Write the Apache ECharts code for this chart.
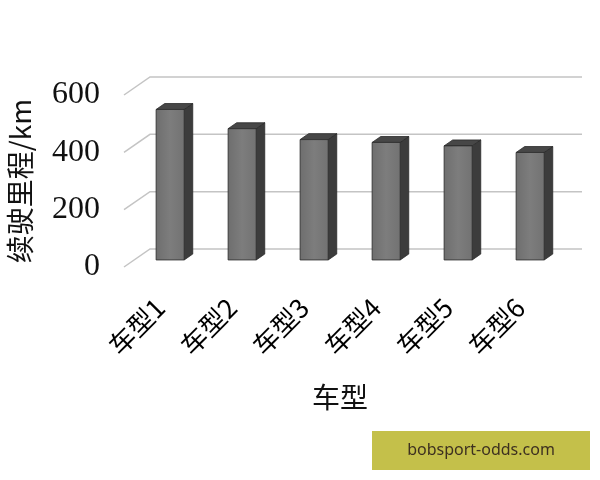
<!DOCTYPE html>
<html>
<head>
<meta charset="utf-8">
<script src="https://cdn.jsdelivr.net/npm/echarts@6/dist/echarts.min.js"></script>
<style>
  html, body { margin: 0; padding: 0; background: #fff; }
  #chart { width: 600px; height: 480px; }
</style>
</head>
<body>
<div id="chart"></div>
<script>
// 数据
var categories = ['车型1', '车型2', '车型3', '车型4', '车型5', '车型6'];
var ranges = [525, 458, 420, 410, 398, 375]; // 续驶里程 km
var yTicks = [0, 200, 400, 600];

// 透视偏移 (前平面 -> 背墙)
var DX = 26, DY = -18;
var F0 = 0.39, F1 = 0.72; // 柱子前后深度

var myChart = echarts.init(document.getElementById('chart'));

function renderGrid(params, api) { // 背墙网格线 + 斜线
    var cs = params.coordSys;
    var p = api.coord([0, api.value(1)]);
    return {
        type: 'polyline',
        shape: {
            points: [
                [cs.x, p[1]],
                [cs.x + DX, p[1] + DY],
                [cs.x + cs.width + DX, p[1] + DY]
            ]
        },
        style: { stroke: '#c4c4c4', lineWidth: 1.5, fill: null },
        z2: 0
    };
}

function renderBar(params, api) { // 立体柱
    var idx = api.value(0);
    var top = api.coord([idx, api.value(1)]);
    var base = api.coord([idx, 0]);
    var w = api.size([1, 0])[0] * 0.39;
    var x0 = top[0] - w / 2 + DX * F0;
    var yT = top[1] + DY * F0;
    var yB = base[1] + DY * F0;
    var dx = DX * (F1 - F0), dy = DY * (F1 - F0);
    var edge = { stroke: '#2a2a2a', lineWidth: 0.8 };
    return {
        type: 'group',
        children: [{
            type: 'polygon',
            shape: { points: [[x0 + w, yT], [x0 + w + dx, yT + dy], [x0 + w + dx, yB + dy], [x0 + w, yB]] },
            style: Object.assign({ fill: '#3c3c3c' }, edge)
        }, {
            type: 'polygon',
            shape: { points: [[x0, yT], [x0 + dx, yT + dy], [x0 + w + dx, yT + dy], [x0 + w, yT]] },
            style: Object.assign({ fill: '#474747' }, edge)
        }, {
            type: 'rect',
            shape: { x: x0, y: yT, width: w, height: yB - yT },
            style: Object.assign({
                fill: new echarts.graphic.LinearGradient(0, 0, 1, 0, [
                    { offset: 0, color: '#6e6e6e' },
                    { offset: 0.5, color: '#7d7d7d' },
                    { offset: 1, color: '#727272' }
                ])
            }, edge)
        }]
    };
}

var option = {
    backgroundColor: '#fff',
    animation: false,
    grid: {
        left: 124,
        width: 432,
        top: 95,
        height: 172,
        containLabel: false,
        outerBoundsMode: 'none'
    },
    xAxis: {
        type: 'category',
        data: categories,
        name: '车型',
        nameLocation: 'middle',
        nameGap: 116,
        nameTextStyle: {
            fontFamily: 'Noto Sans CJK SC',
            fontSize: 28,
            color: '#111',
            verticalAlign: 'top'
        },
        axisLine: { show: false },
        axisTick: { show: false },
        axisLabel: {
            rotate: 45,
            margin: 36,
            fontFamily: 'Noto Sans CJK SC',
            fontSize: 26,
            color: '#000'
        }
    },
    yAxis: {
        type: 'value',
        min: 0,
        max: 600,
        interval: 200,
        name: '续驶里程/km',
        nameLocation: 'middle',
        nameRotate: 90,
        nameGap: 90,
        nameTextStyle: {
            fontFamily: 'Noto Sans CJK SC',
            fontSize: 28,
            color: '#111'
        },
        axisLine: { show: false },
        axisTick: { show: false },
        splitLine: { show: false },
        axisLabel: {
            margin: 24,
            fontFamily: 'Liberation Serif',
            fontSize: 32,
            color: '#111'
        }
    },
    series: [{
        type: 'custom',
        renderItem: renderGrid,
        data: yTicks.map(function(v) { return [0, v]; }),
        encode: { x: 0, y: 1 },
        silent: true,
        z: 1
    }, {
        type: 'custom',
        renderItem: renderBar,
        data: categories.map(function(c, i) { return [i, ranges[i]]; }),
        encode: { x: 0, y: 1 },
        z: 2
    }],
    graphic: [{
        type: 'group',
        left: 372,
        top: 431,
        children: [{
            type: 'rect',
            shape: { x: 0, y: 0, width: 218, height: 39 },
            style: { fill: '#c4c04a' }
        }, {
            type: 'text',
            x: 109,
            y: 19.5,
            style: {
                text: 'bobsport-odds.com',
                fontFamily: 'Noto Sans',
                fontSize: 16,
                fill: '#3d3020',
                align: 'center',
                verticalAlign: 'middle'
            }
        }]
    }]
};
myChart.setOption(option, true);
</script>
</body>
</html>
